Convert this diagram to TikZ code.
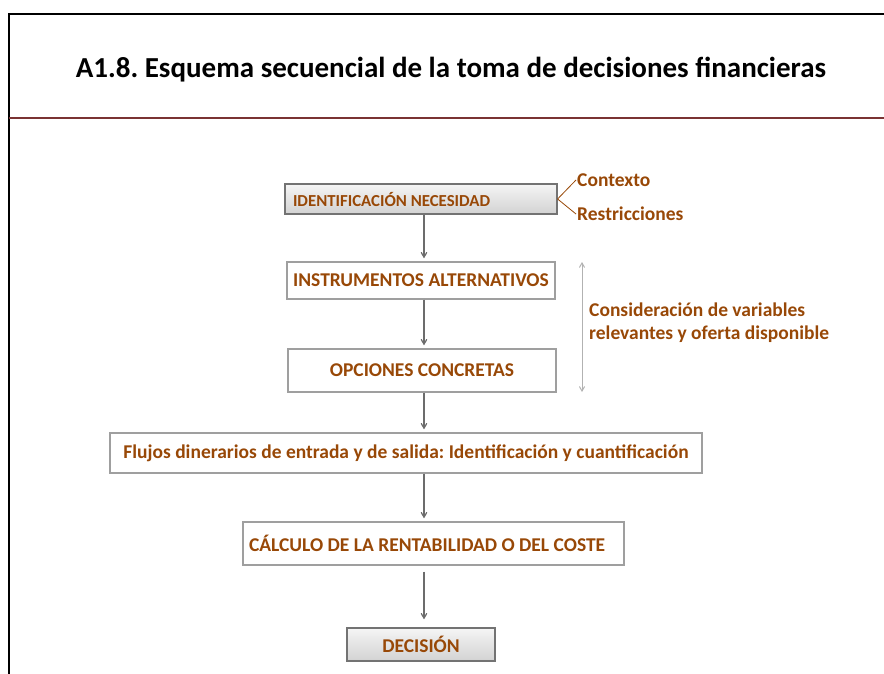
\documentclass[tikz,border=0pt]{standalone}
\usepackage{fontspec}
\setmainfont{Carlito}
\usepackage{tikz}
\usetikzlibrary{arrows}

\definecolor{brownish}{HTML}{984807}
\definecolor{framered}{HTML}{7A3333}
\frenchspacing

\begin{document}
\begin{tikzpicture}[x=1pt,y=-1pt]

	\tikzstyle plain box=[draw=gray!75, line width=1.2pt, fill=white, inner sep=4pt, font=\bfseries\fontsize{19.5}{23}\selectfont, text=brownish];
	\tikzstyle shaded box=[draw=gray!90!black, line width=1.2pt, top color=gray!8, bottom color=gray!35, inner sep=4pt, font=\bfseries\fontsize{19.5}{23}\selectfont, text=brownish];
	\tikzstyle flow lines=[draw=gray!85!black, line width=1.2pt, ->, >=angle 60, shorten >=3pt];
	\tikzstyle side lines=[draw=brownish, line width=0.8pt];
	\tikzstyle side text=[text=brownish, font=\bfseries\fontsize{19.5}{23}\selectfont, anchor=west, inner sep=1pt];

	\useasboundingbox (0,0) rectangle (884,673);

	% frame and title
	\draw[line width=2pt] (9,680) -- (9,14) -- (890,14);
	\draw[line width=2.8pt, framered] (9,118) -- (890,118);
	\node (title) at (451,70) {\bfseries\fontsize{29}{34}\selectfont A1.8. Esquema secuencial de la toma de decisiones financieras};

	% boxes
	\node[shaded box, minimum width=272pt, minimum height=30pt, text width=256pt, align=flush left, font=\bfseries\fontsize{16.8}{20}\selectfont] (ident) at (421,199) {IDENTIFICACIÓN NECESIDAD};
	\node[plain box, minimum width=268pt, minimum height=37pt] (instr) at (421,280.5) {INSTRUMENTOS ALTERNATIVOS};
	\node[plain box, minimum width=268pt, minimum height=43pt] (opc) at (422,370.5) {OPCIONES CONCRETAS};
	\node[plain box, minimum width=592pt, minimum height=40pt] (flujos) at (406,453) {Flujos dinerarios de entrada y de salida: Identificación y cuantificación};
	\node[plain box, minimum width=381pt, minimum height=43pt, text width=369pt, align=flush left] (calc) at (433.5,543.5) {CÁLCULO DE LA RENTABILIDAD O DEL COSTE};
	\node[shaded box, minimum width=148pt, minimum height=33pt] (dec) at (421,644.5) {DECISIÓN};

	% flow arrows
	\coordinate (axis) at (424,0);
	\foreach \a/\b in {ident/instr,instr/opc,opc/flujos,flujos/calc}
		\draw[flow lines] (\a.south -| axis) -- (\b.north -| axis);
	\draw[flow lines, shorten <=6pt, shorten >=8pt] (calc.south -| axis) -- (dec.north -| axis);

	% side notes
	\node[side text] (ctx) at (576,180) {Contexto};
	\node[side text] (res) at (576,214) {Restricciones};
	\draw[side lines] (ident.east) -- (ctx.west);
	\draw[side lines] (ident.east) -- (res.west);

	\coordinate (top) at (582,262);
	\coordinate (bot) at (582,392);
	\draw[gray!60, line width=1pt, <->, >=angle 60] (top) -- (bot);
	\node[side text, align=left] (cons) at (588,322.5) {Consideración de variables\\relevantes y oferta disponible};

\end{tikzpicture}
\end{document}
